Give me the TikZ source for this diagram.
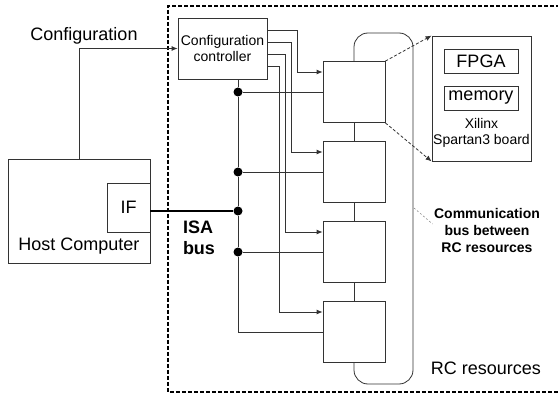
\documentclass[tikz,border=0pt]{standalone}
\usepackage{fontspec}
\setmainfont{Liberation Sans}
\usetikzlibrary{arrows.meta}

\begin{document}
\begin{tikzpicture}[x=1pt,y=-1pt,
        wire/.style={black!80, line width=0.8pt},
        tip/.style={-{Latex[length=6pt,width=5pt]}},
        blk/.style={draw=black!80, line width=0.8pt, rectangle, inner sep=0pt},
        junc/.style={circle, fill=black, inner sep=0pt, minimum size=9pt},
        big/.style={font=\fontsize{18}{21}\selectfont},
        small/.style={font=\fontsize{14}{16}\selectfont}]
        \useasboundingbox (0,0) rectangle (558,396);

        % RC resources area
        \draw[line width=1.4pt, dash pattern=on 4pt off 2pt] (560,6) -- (168,6) -- (168,392) -- (560,392);
        \node[big] (rclbl) at (486,368) {RC resources};

        % host side
        \node[blk, minimum width=142pt, minimum height=104pt] (host) at (79,211) {};
        \node[blk, minimum width=43pt, minimum height=49pt, big] (if) at (128.5,207.5) {IF};
        \node[big, inner sep=0pt] (hostlbl) at (79,246) {Host Computer};
        \node[big] (cfglbl) at (84,36) {Configuration};

        \node[blk, minimum width=89pt, minimum height=61pt, small, align=center] (ctrl) at (222.5,48.5) {Configuration\\controller};
        \draw[wire,tip] (host.north) |- (ctrl.west);

        % RC boards
        \foreach \i in {1,...,4}
            \node[blk, minimum width=62pt, minimum height=61pt] (rc\i) at (354,{12+80*\i}) {};
        \foreach \i/\j in {1/2,2/3,3/4}
            \draw[wire] (rc\i.south) -- (rc\j.north);
        \draw[wire, rounded corners=14pt] (rc1.north) |- (413,33) -- (413,384) -| (rc4.south);

        % ISA bus
        \node[junc] (j1) at (238,92) {};
        \node[junc] (j2) at (238,172) {};
        \node[junc] (isa) at (238,211) {};
        \node[junc] (j3) at (238,252) {};
        \draw[wire] (ctrl.south -| j1) -- (j1) -- (j2) -- (isa) -- (j3) |- (rc4.west);
        \draw[wire] (j1) -- (rc1.west);
        \draw[wire] (j2) -- (rc2.west);
        \draw[wire] (j3) -- (rc3.west);
        \draw[line width=1.6pt] (if.east |- isa) -- (isa);
        \node[align=left, font=\fontsize{18}{21}\selectfont\bfseries] (isalbl) at (199,238) {ISA\\bus};

        % configuration lines
        \foreach \i/\x in {1/297,2/291,3/285,4/279}
            \draw[wire,tip] ([yshift={(30.5-12*\i)*1pt}]ctrl.east) -| (\x,{80*\i-8}) -- ([yshift=20pt]rc\i.west);

        % board detail
        \node[blk, minimum width=99pt, minimum height=125pt] (board) at (481.5,98.5) {};
        \node[blk, minimum width=74pt, minimum height=24pt, big] (fpga) at (481,61) {FPGA};
        \node[blk, minimum width=74pt, minimum height=24pt, big] (mem) at (481,98) {memory};
        \node[small, align=center, inner sep=0pt] (boardlbl) at (481.5,133) {Xilinx\\Spartan3 board};
        \draw[wire, dash pattern=on 3pt off 2pt, tip] (rc1.north east) -- (board.north west);
        \draw[wire, dash pattern=on 3pt off 2pt, tip] (rc1.south east) -- (board.south west);

        \node[align=center, font=\fontsize{14}{17}\selectfont\bfseries] (comm) at (487,230) {Communication\\bus between\\RC resources};
        \coordinate (tap) at (414,208);
        \draw[black!50, line width=0.5pt, dash pattern=on 2pt off 2pt] (tap) -- ([xshift=2pt,yshift=6pt]comm.west);
    \end{tikzpicture}
\end{document}
